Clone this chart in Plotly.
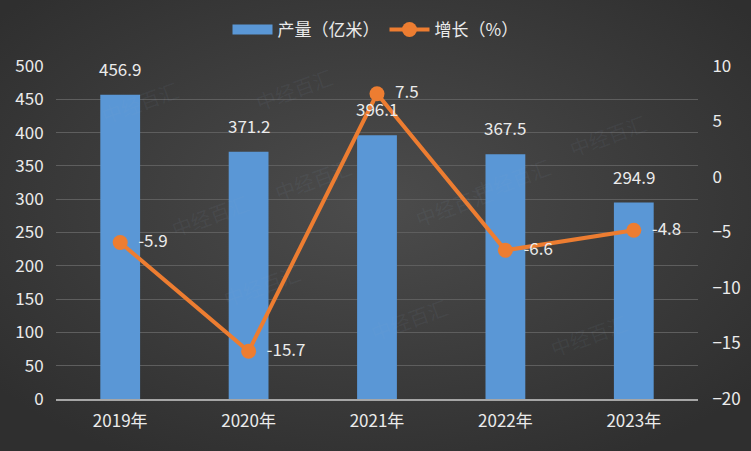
import base64
import plotly.graph_objects as go

years = ["2019年", "2020年", "2021年", "2022年", "2023年"]
output = [456.9, 371.2, 396.1, 367.5, 294.9]
growth = [-5.9, -15.7, 7.5, -6.6, -4.8]

font_family = "Noto Sans CJK SC, Noto Sans, DejaVu Sans"
txt_color = "#ebebeb"
bar_color = "#5a97d6"
line_color = "#ed7d31"

fig = go.Figure()
fig.add_trace(go.Bar(
    x=years, y=output, name="产量（亿米）", showlegend=False,
    marker=dict(color=bar_color, line=dict(width=0)),
))
# bar value labels
for xv, yv in zip(years, output):
    fig.add_annotation(x=xv, y=yv, xref="x", yref="y", text=f"{yv:.1f}",
                       showarrow=False, yanchor="bottom", yshift=12,
                       font=dict(color=txt_color, size=17))
# legend entry drawn as a wide rectangle
fig.add_trace(go.Scatter(
    x=[None], y=[None], name="产量（亿米）", mode="lines",
    line=dict(color=bar_color, width=10),
))
fig.add_trace(go.Scatter(
    x=years, y=growth, name="增长（%）", yaxis="y2",
    mode="lines+markers+text",
    line=dict(color=line_color, width=4),
    marker=dict(color=line_color, size=15),
    text=[f"  {v:.1f}" for v in growth], textposition="middle right",
    textfont=dict(color=txt_color, size=17), cliponaxis=False,
))

# background radial gradient
svg = ('<svg xmlns="http://www.w3.org/2000/svg" width="751" height="451">'
       '<defs><radialGradient id="g" cx="50%" cy="45%" r="65%">'
       '<stop offset="0%" stop-color="#4c4c4c"/><stop offset="100%" stop-color="#2f2f2f"/>'
       '</radialGradient></defs><rect width="751" height="451" fill="url(#g)"/></svg>')
src = "data:image/svg+xml;base64," + base64.b64encode(svg.encode()).decode()
pw, ph = 642.0, 333.0
fig.add_layout_image(dict(source=src, xref="paper", yref="paper",
                          x=-56 / pw, y=1 + 66 / ph, sizex=751 / pw, sizey=451 / ph,
                          xanchor="left", yanchor="top", sizing="stretch", layer="below"))

# watermarks
wm = [(0.06, 0.98), (0.78, 0.75), (0.55, 0.15), (0.93, 0.88), (0.17, 0.55),
      (0.25, 0.25), (0.62, 0.58), (0.40, 0.75), (0.90, 0.10), (0.30, 1.02)]
for (wx, wy) in wm:
    fig.add_annotation(x=wx, y=wy, xref="paper", yref="paper", text="中经百汇",
                       showarrow=False, textangle=-20,
                       font=dict(size=20, color="rgba(150,170,200,0.08)", family=font_family))

fig.update_layout(
    width=751, height=451,
    margin=dict(l=56, r=53, t=66, b=52, autoexpand=False),
    paper_bgcolor="#3a3a3a", plot_bgcolor="rgba(0,0,0,0)",
    font=dict(family=font_family, color=txt_color, size=17),
    bargap=0.69,
    showlegend=True,
    legend=dict(orientation="h", x=0.5, xanchor="center", xref="container",
                y=1 - 30 / 451, yanchor="middle", yref="container",
                font=dict(size=17, color=txt_color), itemwidth=40,
                bgcolor="rgba(0,0,0,0)"),
    xaxis=dict(showline=True, linecolor="#a6a6a6", linewidth=2, ticks="outside",
               tickcolor="rgba(0,0,0,0)", ticklen=6,
               tickfont=dict(size=17, color=txt_color), showgrid=False, automargin=False),
    yaxis=dict(range=[0, 500], dtick=50, gridcolor="#5e5e5e", gridwidth=1,
               zeroline=False, tickfont=dict(size=17, color=txt_color),
               ticks="outside", tickcolor="rgba(0,0,0,0)", ticklen=8, automargin=False),
    yaxis2=dict(range=[-20, 10], dtick=5, overlaying="y", side="right",
                showgrid=False, zeroline=False,
                tickfont=dict(size=17, color=txt_color),
                ticks="outside", tickcolor="rgba(0,0,0,0)", ticklen=10, automargin=False),
)
fig.write_html("out.html", config={"displayModeBar": False},
               post_script="document.body.style.margin='0';")
